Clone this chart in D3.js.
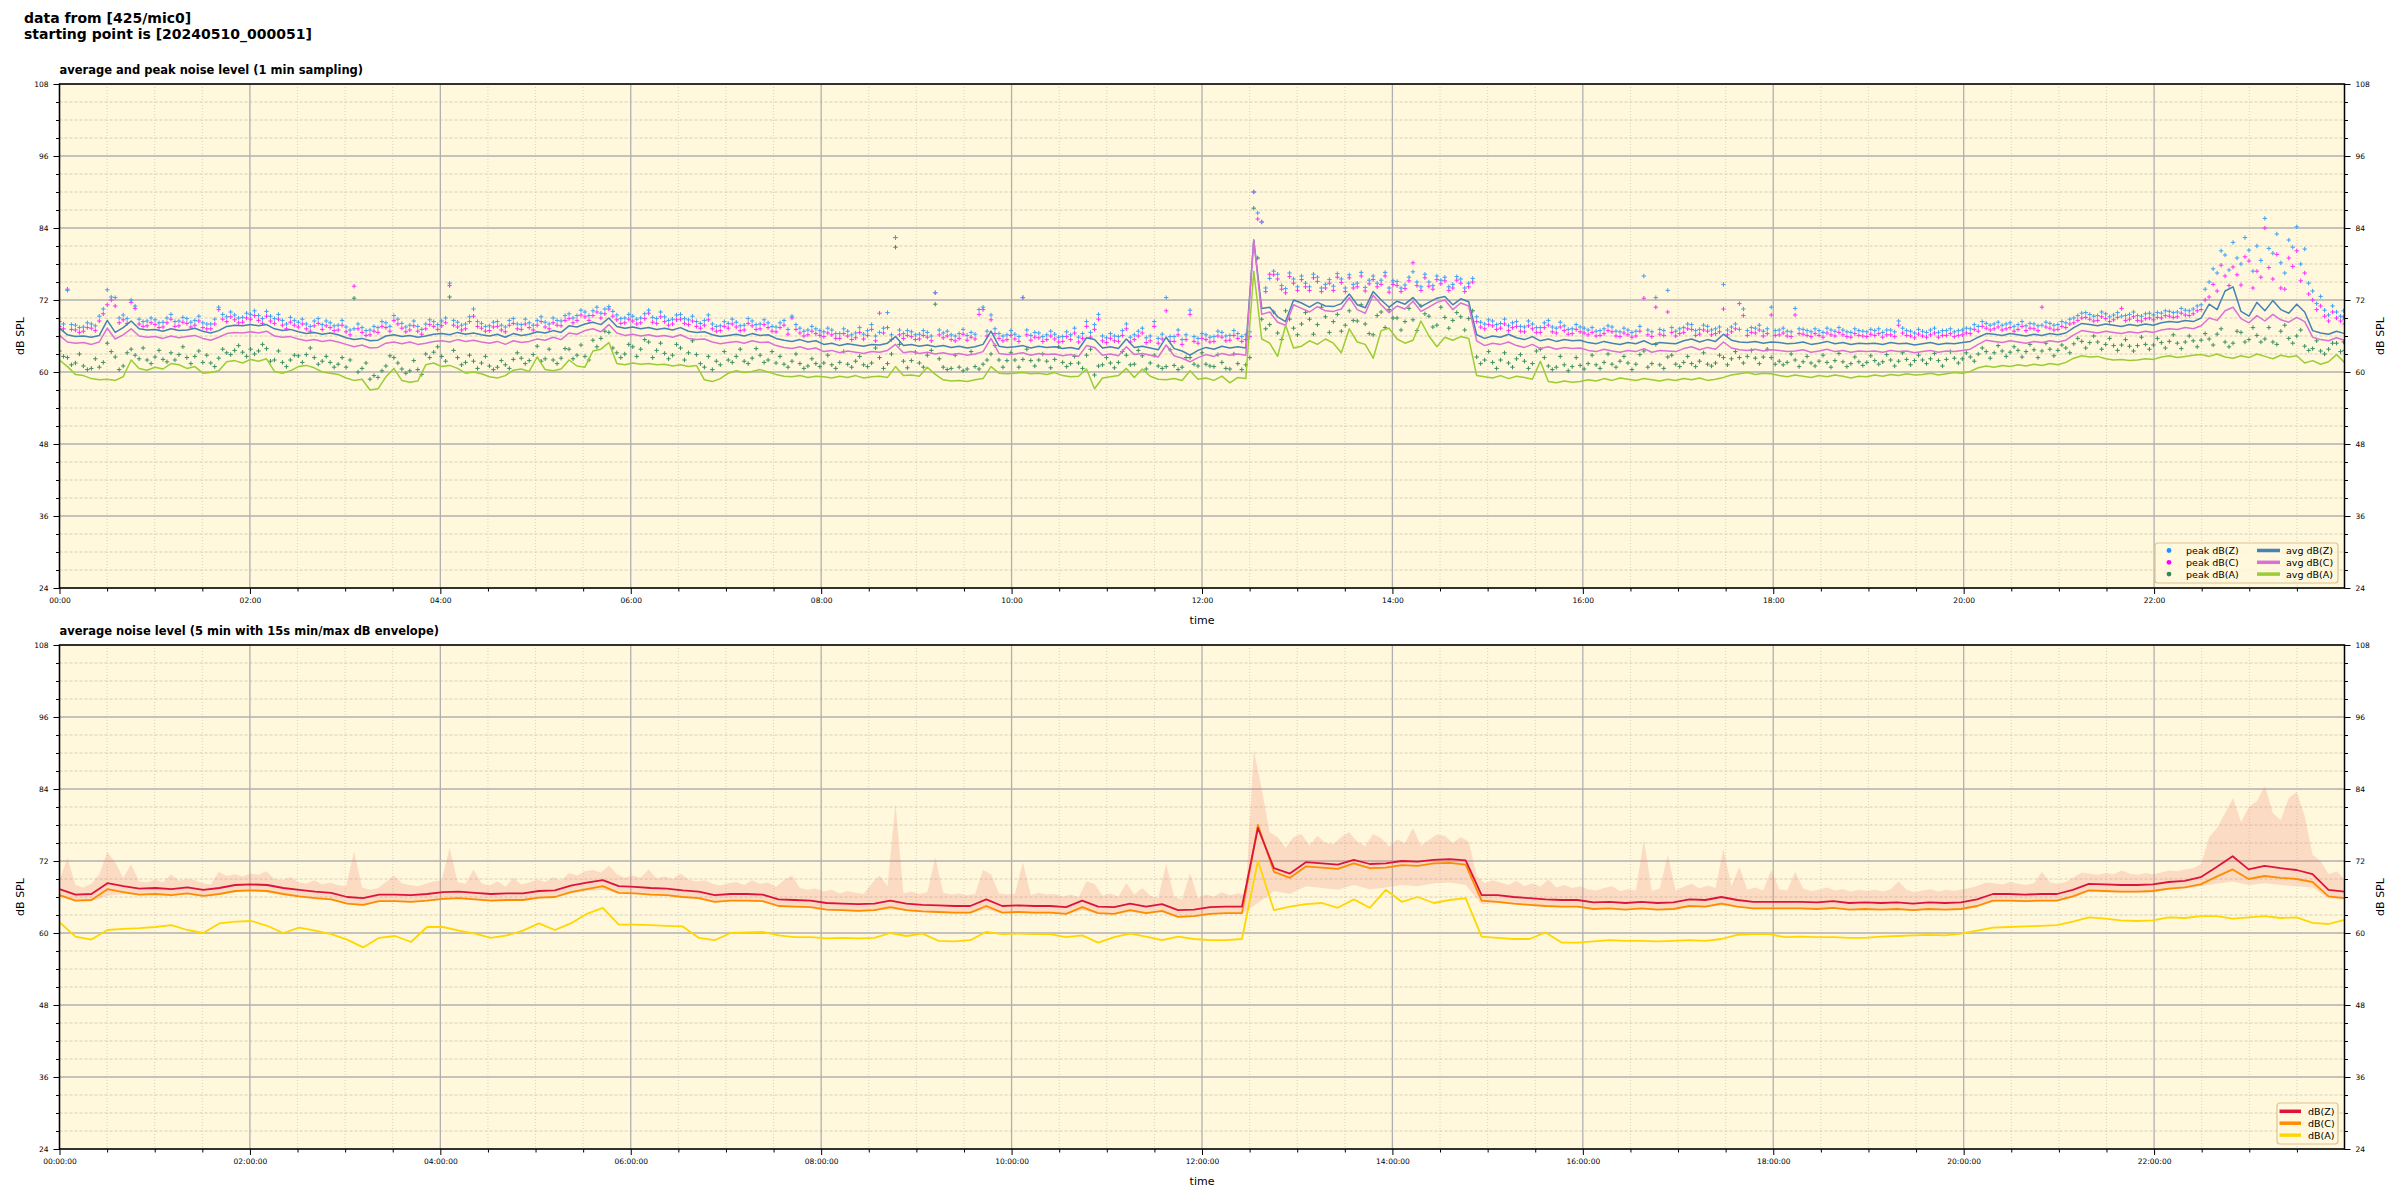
<!DOCTYPE html>
<html><head><meta charset="utf-8">
<script src="https://cdn.jsdelivr.net/npm/d3@7"></script>
<style>
body{margin:0;background:#fff}
svg{display:block}
text{font-family:"DejaVu Sans",sans-serif;fill:#000}
</style>
</head><body>
<svg id="chart" width="2400" height="1200"></svg>
<script>
// ---------- tick labels ----------
const yTicks = [24, 36, 48, 60, 72, 84, 96, 108];
const xTickLabelsTop = ["00:00","02:00","04:00","06:00","08:00","10:00","12:00","14:00","16:00","18:00","20:00","22:00"];
const xTickLabelsBottom = ["00:00:00","02:00:00","04:00:00","06:00:00","08:00:00","10:00:00","12:00:00","14:00:00","16:00:00","18:00:00","20:00:00","22:00:00"];

// ---------- top panel: 1 min sampling (read every 5 min) ----------
const avgZ = [
67.3,66.2,65.9,66.0,65.8,66.1,68.6,66.6,67.4,68.5,67.2,67.0,
67.1,66.8,67.2,66.9,67.0,67.3,66.8,66.5,66.9,67.6,67.8,67.7,
67.9,67.7,67.9,67.2,66.9,67.1,66.7,66.4,66.6,66.3,66.5,66.2,
65.7,65.4,65.6,65.2,65.3,66.0,66.2,65.9,66.1,65.8,66.0,66.3,
66.4,66.2,66.6,66.3,66.5,66.2,66.0,66.3,65.8,66.4,66.1,66.3,
66.7,66.5,66.9,66.6,67.7,67.5,68.0,68.3,67.9,69.0,67.6,67.3,
67.5,67.2,67.4,67.1,67.3,67.0,67.4,66.8,66.6,66.7,66.2,65.9,
66.1,66.3,66.0,66.4,66.1,66.2,65.6,65.3,65.1,65.4,65.0,65.2,
64.6,64.8,64.4,64.7,64.5,64.3,64.6,64.5,64.8,65.9,64.4,64.6,
64.3,64.5,64.2,64.4,64.1,64.3,64.0,64.2,64.6,66.8,64.3,64.1,
64.2,64.4,64.0,64.3,64.1,64.2,63.9,64.1,63.8,65.7,65.4,64.0,
64.2,63.9,65.5,64.1,64.3,64.0,63.7,65.8,63.9,63.5,62.8,63.6,
64.1,63.8,64.3,64.0,64.2,64.0,82.0,70.6,70.8,69.2,68.4,72.0,
71.5,70.8,71.6,71.0,70.9,71.4,73.0,71.2,70.7,73.4,72.0,70.8,
71.8,71.3,72.4,70.9,71.6,72.3,72.6,71.2,72.2,71.7,66.2,65.6,
66.0,65.8,66.3,65.7,65.4,65.9,65.2,65.5,65.1,65.4,65.2,65.3,
64.9,64.7,65.1,64.8,64.6,64.9,64.7,65.2,64.6,64.9,64.8,64.7,
65.2,65.5,65.0,65.4,65.1,66.3,65.3,65.0,64.9,65.1,64.8,65.0,
64.9,64.7,64.8,65.0,64.6,64.8,65.1,64.7,64.9,64.6,64.8,64.7,
64.8,64.6,64.9,64.7,64.8,64.5,64.7,64.9,64.6,64.8,64.7,64.9,
65.1,65.8,66.4,66.3,66.1,66.4,66.2,66.0,66.3,66.1,66.4,66.2,
66.5,67.4,68.1,67.9,67.7,68.0,67.8,67.6,67.9,67.7,68.0,67.8,
68.2,68.4,68.3,68.6,68.4,69.0,71.3,70.4,73.5,74.2,70.1,69.3,
71.6,70.2,71.9,70.4,69.8,71.3,70.0,66.9,66.5,66.3,66.8,66.4];

const avgC = [
66.1,65.0,64.8,64.9,64.6,65.0,67.3,65.5,66.2,67.2,66.0,65.8,
65.9,65.6,66.0,65.7,65.9,66.1,65.6,65.3,65.8,66.4,66.6,66.5,
66.7,66.5,66.8,66.0,65.8,65.9,65.5,65.2,65.4,65.1,65.3,65.0,
64.6,64.2,64.5,64.0,64.1,64.8,65.0,64.7,65.0,64.6,64.8,65.1,
65.2,65.0,65.4,65.1,65.3,65.0,64.8,65.1,64.6,65.2,64.9,65.1,
65.5,65.3,65.8,65.4,66.5,66.3,66.9,67.2,66.7,67.9,66.5,66.1,
66.3,66.0,66.2,65.9,66.1,65.8,66.2,65.6,65.4,65.5,65.0,64.7,
64.9,65.1,64.8,65.2,64.9,65.0,64.4,64.1,63.9,64.2,63.8,64.0,
63.4,63.6,63.2,63.5,63.3,63.1,63.4,63.3,63.6,64.6,63.2,63.4,
63.1,63.3,63.0,63.2,62.9,63.1,62.8,63.0,63.4,65.6,63.1,62.9,
63.0,63.2,62.8,63.1,62.9,63.0,62.7,62.9,62.6,64.4,64.1,62.8,
63.0,62.7,64.2,62.9,63.1,62.8,62.5,64.5,62.7,62.3,61.7,62.4,
62.9,62.6,63.1,62.8,63.0,62.8,82.0,69.6,70.0,68.3,67.8,71.2,
70.6,70.0,70.9,70.2,70.1,70.5,72.4,70.4,69.8,72.8,71.2,69.9,
71.0,70.5,71.8,70.1,70.8,71.6,72.0,70.4,71.5,71.0,65.2,64.4,
64.8,64.6,65.0,64.4,64.1,64.6,63.9,64.2,63.8,64.1,63.9,64.0,
63.6,63.4,63.8,63.5,63.3,63.6,63.4,63.9,63.3,63.6,63.5,63.4,
63.9,64.2,63.7,64.1,63.8,65.0,64.0,63.7,63.6,63.8,63.5,63.7,
63.6,63.4,63.5,63.7,63.3,63.5,63.8,63.4,63.6,63.3,63.5,63.4,
63.5,63.3,63.6,63.4,63.5,63.2,63.4,63.6,63.3,63.5,63.4,63.6,
63.8,64.6,65.3,65.1,64.9,65.2,65.0,64.8,65.1,64.9,65.2,65.0,
65.3,66.2,66.9,66.7,66.5,66.8,66.6,66.4,66.7,66.5,66.8,66.6,
67.0,67.2,67.1,67.4,67.2,67.7,69.0,68.6,70.2,70.8,68.9,68.2,
69.4,68.5,69.6,68.7,68.3,69.1,68.4,65.8,65.4,65.2,65.7,65.3];

const avgA = [
62.0,60.9,59.6,59.4,58.9,58.7,58.8,58.6,59.2,62.0,60.6,60.3,
60.8,60.5,61.4,61.2,60.6,60.9,59.8,59.9,60.2,61.7,61.9,61.5,
62.1,61.8,62.2,60.1,59.8,60.2,60.9,61.1,60.7,60.0,59.8,59.6,
59.0,58.6,58.8,57.0,57.2,59.2,60.6,58.6,58.3,58.5,61.2,61.5,
60.9,61.1,60.6,59.8,60.0,59.7,59.2,59.0,59.4,60.3,60.5,60.1,
62.5,60.4,60.2,60.5,62.0,61.0,60.8,63.5,63.8,64.9,61.4,61.2,
61.5,61.3,61.4,61.2,61.3,61.0,61.2,60.9,61.1,58.7,58.4,58.9,
59.8,60.2,59.9,60.1,60.4,60.0,59.6,59.3,59.2,59.4,59.1,59.3,
59.2,59.0,59.3,59.1,59.4,59.0,59.2,59.3,59.1,60.9,59.4,59.5,
59.3,60.8,59.6,58.7,58.5,58.6,58.4,58.7,58.9,60.9,59.8,59.7,
59.8,59.9,59.7,59.8,59.6,59.9,59.4,59.2,59.3,60.5,57.2,59.0,
59.2,59.4,60.6,59.1,60.5,59.3,58.8,58.7,58.9,58.6,60.2,58.8,
59.0,58.6,59.3,58.2,59.1,58.9,76.8,65.5,64.8,62.6,67.8,64.0,
64.3,65.2,64.6,65.5,64.8,63.2,67.2,65.0,64.6,62.3,66.9,67.3,
65.5,64.8,65.3,68.5,66.0,64.2,65.8,65.3,65.9,65.6,59.4,59.2,
59.0,59.4,58.9,59.3,59.1,58.8,61.8,58.4,58.2,58.5,58.3,58.4,
58.7,58.5,58.9,58.6,59.0,58.8,58.6,58.9,58.7,58.5,58.8,58.6,
58.9,58.7,59.0,58.6,58.8,59.1,59.5,59.7,59.9,59.6,59.8,59.7,
59.4,59.2,59.5,59.3,59.1,59.4,59.2,59.5,59.3,59.0,59.3,59.2,
59.5,59.3,59.6,59.4,59.7,59.5,59.6,59.8,59.5,59.7,59.9,59.8,
60.1,60.7,61.0,60.8,61.1,60.9,61.2,61.0,61.3,61.1,61.4,61.2,
61.6,62.3,62.7,62.5,62.6,62.2,62.0,62.1,61.9,62.0,62.2,62.1,
62.5,62.7,62.4,62.6,62.8,62.9,62.6,63.0,62.5,62.3,62.7,62.4,
63.0,62.6,62.2,62.8,62.5,62.7,61.5,61.9,61.3,61.7,62.9,61.6];

// peaks read at :00/:05 ... of every 5 min
const peakZ = [
68.4,73.6,67.8,67.5,68.0,69.3,73.7,72.4,69.5,72.0,68.8,68.5,
68.7,68.3,69.6,68.5,68.9,68.6,68.2,68.0,70.8,69.2,69.5,69.1,
69.6,69.4,70.1,68.9,68.6,69.1,68.3,68.0,68.5,67.9,68.2,67.8,
67.5,67.2,67.4,67.0,67.4,68.2,69.4,68.1,67.8,67.6,68.0,68.4,
68.5,74.8,68.3,68.0,70.5,68.1,67.7,68.4,67.5,68.9,67.9,68.2,
68.6,68.3,69.0,68.5,69.7,69.4,70.0,70.2,69.8,70.9,69.5,69.0,
69.3,69.0,70.3,68.9,69.2,68.8,69.6,68.7,68.4,68.6,68.0,67.7,
68.1,68.3,67.8,68.5,68.0,68.2,67.5,68.6,69.3,67.3,67.0,67.2,
66.7,67.0,66.4,66.8,66.5,66.3,67.9,66.6,69.9,82.4,66.4,66.7,
66.3,66.6,73.2,66.5,66.2,66.4,66.1,66.3,70.8,69.5,66.4,66.2,
66.3,72.4,66.1,66.5,66.2,66.3,65.9,66.2,65.8,68.4,67.9,66.0,
66.4,65.9,68.0,66.2,67.3,66.0,65.6,72.4,65.9,65.4,70.3,65.6,
66.2,65.9,66.6,66.1,66.4,66.2,90.0,85.0,75.6,76.3,73.9,75.5,
76.0,74.2,75.8,74.6,74.3,75.5,76.2,74.8,74.1,76.0,75.3,74.0,
75.1,74.5,76.7,74.2,75.0,76.0,75.8,74.6,75.5,74.8,69.2,68.0,
68.5,68.1,67.7,68.4,67.5,68.0,67.4,68.6,67.3,67.7,67.2,67.5,
67.0,66.8,67.2,67.5,66.7,67.0,66.8,76.0,66.7,67.1,73.6,66.8,
67.4,67.9,67.1,67.6,67.2,74.6,67.5,67.1,66.9,67.3,66.8,70.8,
67.0,66.8,70.6,67.1,66.7,66.9,67.3,66.8,67.0,66.6,66.9,66.7,
66.9,66.6,67.0,68.5,66.9,66.5,66.8,67.0,66.6,66.9,66.7,67.0,
67.2,67.6,68.1,68.0,67.8,68.2,67.9,67.7,68.0,67.8,68.1,67.9,
68.2,69.0,69.8,69.6,69.4,69.7,69.5,69.3,69.6,69.4,69.7,69.5,
69.8,70.1,70.0,70.3,70.5,71.2,75.0,76.5,79.5,81.6,78.0,80.3,
81.0,85.6,79.8,78.2,82.0,84.2,80.5,73.5,72.6,69.5,70.0,68.8];

const peakC = [
67.6,73.8,67.0,66.8,67.3,68.5,71.2,71.0,68.7,71.6,68.0,67.7,
67.9,67.5,68.8,67.7,68.1,67.8,67.4,67.2,70.4,68.4,68.7,68.3,
68.8,68.6,69.3,68.1,67.8,68.3,67.5,67.2,67.7,67.1,67.4,67.0,
66.7,74.3,66.6,66.2,66.6,67.4,68.6,67.3,67.0,66.8,67.2,67.6,
67.7,74.4,67.5,67.2,69.3,67.3,66.9,67.6,66.7,68.1,67.1,67.4,
67.8,67.5,68.2,67.7,68.9,68.6,69.2,69.4,69.0,70.5,68.7,68.2,
68.5,68.2,69.8,68.1,68.4,68.0,68.8,67.9,67.6,67.8,67.2,66.9,
67.3,67.5,67.0,67.7,67.2,67.4,66.7,67.8,69.0,66.5,66.2,66.4,
65.9,66.2,65.6,66.0,65.7,65.5,67.1,69.8,67.4,82.4,65.6,65.9,
65.5,65.8,73.2,65.7,65.4,65.6,65.3,65.5,70.4,68.7,65.6,65.4,
65.5,72.4,65.3,65.7,65.4,65.5,65.1,65.4,65.0,67.6,67.1,65.2,
65.6,65.1,67.2,65.4,66.5,65.2,64.8,70.2,65.1,64.6,69.6,64.8,
65.4,65.1,65.8,65.3,65.6,65.4,90.0,85.0,76.3,75.5,73.2,74.8,
75.4,73.6,75.1,74.0,73.6,74.9,75.7,74.2,73.5,75.4,74.6,73.3,
74.4,73.9,78.2,73.6,74.3,75.4,75.2,74.0,74.8,74.2,68.4,67.2,
67.7,67.3,66.9,67.6,66.7,67.2,66.6,67.8,66.5,66.9,66.4,66.7,
66.2,66.0,66.4,66.7,65.9,66.2,66.0,72.3,65.9,66.3,70.0,66.0,
66.6,67.1,66.3,66.8,66.4,70.5,66.7,71.4,66.1,66.5,66.0,69.5,
66.2,66.0,69.5,66.3,65.9,66.1,66.5,66.0,66.2,65.8,66.1,65.9,
66.1,65.8,66.2,67.8,66.1,65.7,66.0,66.2,65.8,66.1,65.9,66.2,
66.4,66.8,67.3,67.2,67.0,67.4,67.1,66.9,67.2,70.8,67.3,67.1,
67.4,68.2,69.0,68.8,68.6,68.9,68.7,70.6,68.8,68.6,68.9,68.7,
69.0,69.3,69.2,69.5,69.7,70.4,72.5,73.5,76.0,77.5,74.5,78.5,
76.8,84.0,75.5,74.0,79.0,80.2,76.5,72.0,71.0,68.5,69.0,68.0];

const peakA = [
63.5,62.4,61.5,61.0,60.6,60.8,64.8,62.5,61.0,63.8,62.2,62.0,
62.5,62.1,63.2,62.9,62.4,62.6,61.6,61.5,62.3,63.2,63.6,63.3,
63.8,63.5,63.9,62.0,61.6,62.0,62.7,62.9,62.4,61.8,61.6,61.3,
60.8,72.3,60.6,58.8,59.1,61.0,62.4,60.5,60.2,60.4,63.0,63.3,
62.6,72.5,62.4,61.6,61.8,61.5,61.0,60.8,61.2,62.1,62.3,61.9,
64.3,62.2,62.0,62.3,63.8,62.8,62.6,65.3,65.6,66.6,63.2,63.0,
64.2,63.8,65.0,63.6,63.1,62.8,64.0,63.2,62.9,60.8,60.4,61.2,
62.0,62.6,61.8,62.3,62.8,62.0,61.5,61.3,61.8,61.4,61.0,61.4,
61.5,61.2,61.6,61.3,61.8,61.2,61.5,62.4,61.4,80.8,61.8,61.9,
61.5,62.8,71.3,60.8,60.6,60.8,60.5,60.9,61.3,63.0,62.0,61.9,
62.0,62.1,61.9,62.0,61.8,62.1,61.6,61.4,61.5,62.8,59.5,61.2,
61.5,61.6,62.8,61.3,62.7,61.5,61.0,60.9,61.1,60.8,62.4,61.0,
61.3,60.9,61.6,60.5,61.4,61.2,87.3,68.8,67.9,66.5,70.2,67.3,
68.0,68.8,67.9,69.2,68.4,66.8,70.2,68.5,68.0,66.2,70.0,70.4,
69.0,68.4,68.7,71.0,69.3,67.8,69.1,68.6,69.2,68.9,62.5,62.0,
61.6,62.0,61.5,62.2,61.8,61.4,63.8,61.0,60.8,61.2,60.9,61.1,
61.4,61.2,61.6,61.3,61.8,61.5,61.3,63.5,61.4,61.2,62.5,61.3,
61.6,61.4,61.8,61.3,61.5,62.4,62.2,62.4,62.6,62.3,62.5,62.4,
61.8,61.6,62.0,61.7,61.5,61.8,61.6,61.9,61.7,61.4,61.7,61.6,
61.9,61.7,62.0,61.8,62.1,61.9,62.0,62.2,61.9,62.1,62.3,62.2,
62.5,63.0,63.4,63.2,63.5,63.3,63.6,63.4,63.7,63.5,63.8,63.6,
64.0,64.7,65.1,64.9,65.0,64.6,64.4,64.5,64.3,64.4,64.6,64.5,
64.9,65.1,64.8,65.0,65.2,65.3,65.5,66.3,65.0,64.8,66.6,65.4,
66.1,65.5,65.0,66.8,65.6,66.0,64.3,63.9,63.5,63.8,64.8,63.6];

// peaks read at :02:30/:07:30 ... of every 5 min
const peakZ2 = [
68.0,67.9,67.4,68.2,67.7,70.5,72.5,69.0,68.9,71.0,68.4,69.0,
68.2,69.0,68.4,69.1,68.3,69.3,68.0,68.8,69.6,70.0,69.0,69.8,
70.2,68.9,69.3,69.6,68.0,68.6,68.8,67.6,68.9,68.5,67.7,68.6,
67.0,68.0,66.9,67.6,68.4,67.6,68.8,67.5,68.5,67.1,68.7,67.9,
69.0,68.6,67.8,69.2,68.4,67.6,68.3,67.8,68.6,68.0,68.8,67.8,
69.2,68.0,68.6,69.4,69.0,70.3,69.4,70.8,70.5,70.1,68.9,69.6,
68.8,69.7,69.1,70.0,68.6,69.5,68.9,69.3,68.1,69.5,67.6,68.4,
68.8,67.7,68.9,67.9,68.7,67.6,68.2,67.1,67.9,66.8,67.6,66.9,
67.3,66.4,67.2,66.2,67.4,66.9,66.0,67.3,66.2,67.0,66.9,66.2,
66.9,66.0,67.0,66.8,66.0,67.1,66.6,70.4,66.8,67.2,66.0,66.9,
65.9,67.0,66.6,65.9,66.8,65.8,66.7,67.3,66.4,66.6,69.6,65.7,
66.0,66.9,65.8,66.8,65.7,68.4,66.3,65.9,67.0,66.2,65.9,66.4,
65.8,66.8,66.0,66.9,65.9,66.7,86.5,74.0,76.8,74.4,76.5,74.2,
74.8,76.3,74.0,75.4,76.4,74.0,74.6,76.6,75.3,74.8,76.6,75.2,
74.0,75.8,75.0,76.3,74.4,75.3,74.2,75.9,74.0,75.6,68.3,68.7,
67.9,68.8,68.2,67.6,68.5,67.4,68.2,67.5,68.3,67.1,67.9,67.3,
67.4,66.9,67.7,66.8,67.3,66.6,67.6,67.0,72.4,66.9,67.4,67.2,
68.0,66.9,67.8,67.0,67.5,67.0,68.0,70.5,67.4,67.8,67.2,66.9,
67.3,66.7,67.2,66.9,67.2,66.6,67.0,67.4,66.7,67.2,66.8,67.1,
67.2,67.0,66.7,67.3,66.8,67.1,66.6,67.3,66.9,67.2,66.9,67.3,
67.9,68.4,67.8,68.3,68.0,67.6,68.4,68.1,67.7,68.3,67.8,68.4,
68.8,69.4,69.9,69.3,70.0,69.2,69.9,69.4,70.0,69.3,69.8,69.9,
70.2,69.9,70.6,70.2,71.0,73.8,77.2,80.2,77.0,79.0,82.4,76.8,
78.6,80.6,83.0,76.5,80.8,78.0,74.8,71.4,70.3,71.0,69.3,70.2];

const peakC2 = [
67.2,67.1,66.6,67.4,66.9,69.7,72.0,68.2,68.1,70.6,67.6,68.2,
67.4,68.2,67.6,68.3,67.5,68.5,67.2,68.0,68.8,69.2,68.2,69.0,
69.4,68.1,68.5,68.8,67.2,67.8,68.0,66.8,68.1,67.7,66.9,67.8,
66.2,67.2,66.1,66.8,67.6,66.8,68.0,66.7,67.7,66.3,67.9,67.1,
68.2,67.8,67.0,68.4,67.6,66.8,67.5,67.0,67.8,67.2,68.0,67.0,
68.4,67.2,67.8,68.6,68.2,69.5,68.6,70.0,69.7,69.3,68.1,68.8,
68.0,68.9,68.3,69.2,67.8,68.7,68.1,68.5,67.3,68.7,66.8,67.6,
68.0,66.9,68.1,67.1,67.9,66.8,67.4,66.3,67.1,66.0,66.8,66.1,
66.5,65.6,66.4,65.4,66.6,66.1,65.2,66.5,65.4,66.2,66.1,65.4,
66.1,65.2,66.2,66.0,65.2,66.3,65.8,69.6,66.0,66.4,65.2,66.1,
65.1,66.2,65.8,65.1,66.0,65.0,65.9,66.5,65.6,65.8,68.8,64.9,
65.2,66.1,65.0,66.0,64.9,67.6,65.5,65.1,66.2,65.4,65.1,65.6,
65.0,66.0,65.2,66.1,65.1,65.9,85.5,73.4,76.2,73.8,75.9,73.6,
74.2,75.7,73.4,74.8,75.8,73.4,74.0,76.0,74.7,74.2,76.0,74.6,
73.4,75.2,74.4,75.7,73.8,74.7,73.6,75.3,73.4,75.0,67.5,67.9,
67.1,68.0,67.4,66.8,67.7,66.6,67.4,66.7,67.5,66.3,67.1,66.5,
66.6,66.1,66.9,66.0,66.5,65.8,66.8,66.2,70.8,66.1,66.6,66.4,
67.2,66.1,67.0,66.2,66.7,66.2,67.2,69.4,66.6,67.0,66.4,66.1,
66.5,65.9,66.4,66.1,66.4,65.8,66.2,66.6,65.9,66.4,66.0,66.3,
66.4,66.2,65.9,66.5,66.0,66.3,65.8,66.5,66.1,66.4,66.1,66.5,
67.1,67.6,67.0,67.5,67.2,66.8,67.6,67.3,66.9,67.5,67.0,67.6,
68.0,68.6,69.1,68.5,69.2,68.4,69.1,68.6,69.2,68.5,69.0,69.1,
69.4,69.1,69.8,69.4,70.2,72.0,74.6,77.8,74.4,76.2,79.2,74.0,
75.8,77.4,79.6,73.8,77.6,75.2,73.0,70.4,69.3,70.0,68.5,69.2];

const peakA2 = [
62.6,61.2,63.0,60.4,62.2,61.6,63.4,60.4,63.2,62.8,64.0,61.4,
63.6,61.7,62.0,64.2,61.4,63.5,62.8,60.9,63.8,62.9,64.4,62.6,
63.0,64.6,61.8,63.5,60.9,62.8,61.6,64.0,61.3,62.6,60.8,62.4,
62.0,60.0,61.5,59.4,60.2,62.7,61.5,59.8,61.9,59.6,62.4,64.2,
61.8,63.6,61.2,62.8,60.6,62.6,60.4,61.9,60.6,63.2,61.4,62.9,
61.8,63.8,61.4,63.9,62.2,64.5,62.0,64.2,66.8,64.0,62.4,64.6,
62.6,65.4,62.4,64.8,62.2,64.6,62.0,65.2,61.4,62.6,61.8,63.4,
61.6,63.8,61.4,63.9,61.6,63.4,62.6,60.8,63.0,60.6,62.2,60.9,
62.8,60.6,63.4,60.8,62.6,60.9,64.0,60.6,63.0,64.6,60.7,63.3,
60.8,63.6,62.2,60.4,62.8,60.2,63.4,60.5,62.0,64.4,60.8,63.2,
60.8,63.8,61.0,63.0,60.7,64.2,60.9,62.6,60.6,63.8,61.0,62.4,
60.7,63.4,61.2,63.6,60.5,62.8,60.6,63.7,60.4,62.4,61.3,63.2,
61.0,62.9,60.6,63.0,60.4,62.4,79.0,67.2,70.0,65.4,68.8,66.2,
69.9,66.3,70.8,66.6,69.6,67.8,68.6,71.2,66.4,69.4,67.4,69.0,
67.0,70.6,66.9,69.7,67.5,70.8,67.3,69.9,67.0,70.2,61.4,63.4,
60.6,63.2,60.8,62.9,60.6,63.5,62.4,60.4,62.6,60.2,62.4,60.5,
62.8,60.6,63.0,60.8,62.6,60.4,62.9,60.8,64.6,60.6,62.8,60.9,
62.6,60.9,63.2,61.0,62.8,61.2,63.4,61.5,63.6,61.4,63.8,61.3,
61.2,63.0,60.9,62.6,61.0,62.8,60.8,63.1,60.9,62.5,61.1,62.7,
61.3,62.9,61.0,63.2,61.2,62.8,61.4,63.1,61.0,63.4,61.5,63.2,
61.8,64.0,62.3,64.4,62.6,64.2,62.5,64.6,62.4,64.8,62.7,64.5,
63.2,65.6,64.0,66.0,63.8,65.6,63.6,65.4,63.5,65.8,63.8,65.6,
64.0,66.2,63.9,66.0,64.2,66.4,64.5,67.2,64.2,66.8,65.0,67.4,
65.0,67.4,64.6,67.8,64.8,67.0,63.6,65.2,63.0,64.8,63.4,65.0];

// ---------- bottom panel: 5 min averages (read every 10 min) ----------
const lvlZ = [
67.3,66.4,66.5,68.3,67.8,67.4, 67.5,67.3,67.6,67.2,67.5,68.0,
68.1,68.0,67.5,67.2,66.9,66.7, 66.0,65.8,66.4,66.4,66.3,66.5,
66.8,66.9,66.7,66.5,66.6,66.6, 67.0,67.1,67.9,68.4,68.8,67.8,
67.7,67.5,67.4,67.1,66.9,66.3, 66.5,66.5,66.4,65.6,65.5,65.4,
65.0,64.9,64.8,64.9,65.4,64.9, 64.7,64.6,64.5,64.5,65.6,64.5,
64.6,64.5,64.5,64.3,65.4,64.4, 64.3,64.9,64.4,64.8,63.8,63.9,
64.3,64.4,64.4,77.5,70.8,69.9, 71.8,71.6,71.4,72.2,71.5,71.6,
72.0,71.9,72.2,72.3,72.1,66.3, 66.3,66.0,65.8,65.6,65.5,65.5,
65.1,65.2,65.0,65.2,65.0,65.1, 65.6,65.5,66.0,65.5,65.2,65.2,
65.2,65.2,65.1,65.3,65.0,65.1, 65.0,65.1,64.9,65.1,65.0,65.1,
65.6,66.5,66.5,66.4,66.5,66.5, 67.2,68.2,68.1,68.0,68.0,68.1,
68.5,68.7,69.3,71.0,72.8,70.6, 71.2,70.8,70.5,69.8,67.2,66.9];

const lvlC = [
66.3,65.4,65.5,67.3,66.8,66.4, 66.5,66.3,66.6,66.2,66.5,67.0,
67.1,67.0,66.5,66.1,65.8,65.6, 64.9,64.7,65.3,65.3,65.2,65.4,
65.7,65.8,65.6,65.4,65.5,65.5, 65.9,66.0,66.8,67.3,67.8,66.7,
66.6,66.4,66.3,66.0,65.8,65.2, 65.4,65.4,65.3,64.5,64.4,64.3,
63.9,63.8,63.7,63.8,64.3,63.8, 63.6,63.5,63.4,63.4,64.5,63.4,
63.5,63.4,63.4,63.2,64.3,63.3, 63.2,63.8,63.3,63.7,62.7,62.8,
63.2,63.3,63.3,78.0,70.2,69.2, 71.1,70.9,70.7,71.6,70.8,70.9,
71.3,71.2,71.6,71.7,71.4,65.4, 65.2,64.9,64.7,64.5,64.4,64.4,
64.0,64.1,63.9,64.1,63.9,64.0, 64.5,64.4,64.9,64.4,64.1,64.1,
64.1,64.1,64.0,64.2,63.9,64.0, 63.9,64.0,63.8,64.0,63.9,64.0,
64.5,65.4,65.4,65.3,65.4,65.4, 66.1,67.1,67.0,66.9,66.9,67.0,
67.4,67.6,68.1,69.4,70.6,69.0, 69.5,69.2,69.0,68.5,66.1,65.8];

const lvlA = [
61.8,59.4,58.9,60.5,60.7,60.8, 61.0,61.3,60.5,60.0,61.6,61.9,
62.0,61.2,60.0,60.9,60.4,59.8, 58.9,57.6,59.2,59.5,58.5,61.0,
61.0,60.4,59.9,59.2,59.6,60.4, 61.6,60.5,61.6,63.2,64.2,61.4,
61.4,61.3,61.2,61.1,59.2,58.8, 60.0,60.1,60.2,59.6,59.3,59.3,
59.1,59.2,59.1,59.2,60.0,59.5, 59.9,58.7,58.6,58.8,60.2,59.8,
59.9,59.8,59.8,59.3,59.6,58.4, 59.3,59.9,59.4,58.8,59.4,59.0,
58.8,58.8,59.0,72.0,63.8,64.4, 64.8,65.0,64.2,65.6,64.2,67.2,
65.2,66.0,65.0,65.5,65.8,59.4, 59.2,59.0,59.0,60.1,58.4,58.4,
58.6,58.8,58.7,58.7,58.6,58.7, 58.8,58.7,59.0,59.7,59.8,59.8,
59.3,59.4,59.3,59.3,59.2,59.2, 59.4,59.5,59.6,59.7,59.6,59.9,
60.4,60.9,61.0,61.1,61.2,61.3, 61.9,62.6,62.4,62.1,62.0,62.1,
62.6,62.5,62.8,62.8,62.4,62.6, 62.8,62.5,62.6,61.7,61.5,62.2];

// 15 s max envelope (read every 5 min) and min envelope (read every 10 min)
const envMax = [
68.8,72.5,68.0,67.6,68.2,69.8,73.5,71.8,69.2,71.4,68.6,68.4,
68.9,68.4,69.8,68.7,69.0,68.8,68.3,68.1,70.2,69.5,69.8,69.4,
69.9,69.7,70.3,69.0,68.8,69.3,68.5,68.2,68.8,68.1,68.4,68.0,
67.8,73.6,67.6,67.2,67.5,68.5,69.6,68.3,68.0,67.8,68.2,68.6,
68.8,74.2,68.5,68.2,70.6,68.3,67.9,68.6,67.7,69.2,68.1,68.4,
68.9,68.5,69.3,68.7,70.0,69.6,70.3,70.5,70.1,71.2,69.8,69.2,
69.6,69.2,70.6,69.1,69.4,69.0,69.9,68.9,68.6,68.8,68.2,67.9,
68.3,68.5,68.0,68.8,68.2,68.4,67.7,68.8,69.6,67.5,67.2,67.4,
66.9,67.2,66.6,67.0,66.7,66.5,68.2,69.6,67.8,81.5,66.6,66.9,
66.5,66.8,72.6,66.7,66.4,66.6,66.3,66.5,70.5,69.8,66.6,66.4,
66.5,71.8,66.3,66.7,66.4,66.5,66.1,66.4,66.0,68.6,68.2,66.2,
66.6,66.1,68.3,66.4,67.5,66.2,65.8,71.6,66.1,65.6,70.0,65.8,
66.4,66.1,66.8,66.3,66.6,66.4,90.5,84.0,76.8,76.0,74.2,76.0,
76.5,74.6,76.2,75.0,74.8,76.0,76.8,75.2,74.5,76.5,75.8,74.4,
75.6,75.0,77.5,74.6,75.5,76.4,76.2,75.0,76.0,75.2,69.5,68.3,
68.8,68.4,68.0,68.7,67.8,68.3,67.7,68.9,67.6,68.0,67.5,67.8,
67.3,67.1,67.5,67.8,67.0,67.3,67.1,75.5,67.0,67.4,73.0,67.1,
67.7,68.2,67.4,67.9,67.5,74.0,67.8,71.0,67.2,67.6,67.1,70.5,
67.3,67.1,70.2,67.4,67.0,67.2,67.6,67.1,67.3,66.9,67.2,67.0,
67.2,66.9,67.3,68.6,67.2,66.8,67.1,67.3,66.9,67.2,67.0,67.3,
67.5,67.9,68.4,68.3,68.1,68.5,68.2,68.0,68.3,70.2,68.4,68.2,
68.5,69.3,70.1,69.9,69.7,70.0,69.8,70.4,69.9,69.7,70.0,69.8,
70.1,70.4,70.3,70.6,70.8,71.5,76.0,77.5,80.0,82.5,78.5,81.0,
82.0,84.5,80.0,78.8,82.5,83.5,79.5,73.0,72.0,69.8,70.3,69.0];

const envMin = [
66.0,65.4,65.3,66.2,66.5,66.3, 66.4,66.2,66.4,66.0,66.4,66.8,
67.0,66.8,66.3,66.0,65.7,65.5, 64.8,64.5,65.2,65.2,65.1,65.3,
65.6,65.7,65.5,65.3,65.4,65.4, 65.8,65.9,66.6,67.0,67.2,66.6,
66.5,66.3,66.2,65.9,65.7,65.1, 65.3,65.3,65.2,64.4,64.3,64.2,
63.8,63.7,63.6,63.7,63.9,63.7, 63.5,63.4,63.3,63.3,63.9,63.3,
63.4,63.3,63.3,63.1,63.8,63.2, 63.1,63.5,63.2,63.4,62.6,62.7,
63.1,63.2,63.2,65.0,67.0,66.5, 67.8,67.5,67.2,68.0,67.3,67.6,
68.0,67.8,68.3,68.4,68.0,64.8, 65.0,64.8,64.6,64.4,64.3,64.3,
63.9,64.0,63.8,64.0,63.8,63.9, 64.4,64.3,64.6,64.3,64.0,64.0,
64.0,64.0,63.9,64.1,63.8,63.9, 63.8,63.9,63.7,63.9,63.8,63.9,
64.3,65.2,65.3,65.2,65.3,65.3, 65.9,66.9,66.8,66.7,66.7,66.8,
67.2,67.4,67.8,68.2,68.6,68.0, 68.3,68.0,67.8,67.6,65.8,65.6];

// ---------- drawing ----------
const svg = d3.select("#chart");
const L = 59.5, R = 2344.5;
const x = d3.scaleLinear().domain([0, 24]).range([L, R]);
const hourOf = (i, n) => i * 24 / (n - 1);
const hourOfHalf = (i, n) => Math.min(23.99, (i + 0.5) * 24 / (n - 1));

svg.append("text").attr("x", 24).attr("y", 23).attr("font-size", 14).attr("font-weight", "bold").text("data from [425/mic0]");
svg.append("text").attr("x", 24).attr("y", 39).attr("font-size", 14).attr("font-weight", "bold").text("starting point is [20240510_000051]");

function panel(top, bottom, title, xLabels, id) {
  const y = d3.scaleLinear().domain([24, 108]).range([bottom, top]);
  const g = svg.append("g");
  g.append("rect").attr("x", L).attr("y", top).attr("width", R - L).attr("height", bottom - top).attr("fill", "#fff8dc");
  g.append("clipPath").attr("id", id).append("rect").attr("x", L).attr("y", top).attr("width", R - L).attr("height", bottom - top);

  const majorX = d3.range(0, 24, 2);
  const minorX = d3.range(0, 24.01, 0.5).filter(h => h % 2 !== 0);
  const minorY = d3.range(24, 108.01, 3).filter(v => (v - 24) % 12 !== 0);
  g.selectAll(null).data(minorY).join("line")
    .attr("x1", L).attr("x2", R).attr("y1", d => y(d)).attr("y2", d => y(d))
    .attr("stroke", "#c9c3b0").attr("stroke-width", 0.8).attr("stroke-dasharray", "3,2");
  g.selectAll(null).data(minorX).join("line")
    .attr("y1", top).attr("y2", bottom).attr("x1", d => x(d)).attr("x2", d => x(d))
    .attr("stroke", "#cfc9b6").attr("stroke-width", 0.8).attr("stroke-dasharray", "1,2");
  g.selectAll(null).data(yTicks).join("line")
    .attr("x1", L).attr("x2", R).attr("y1", d => y(d)).attr("y2", d => y(d))
    .attr("stroke", "#b0b0b0").attr("stroke-width", 1.3);
  g.selectAll(null).data(majorX).join("line")
    .attr("y1", top).attr("y2", bottom).attr("x1", d => x(d)).attr("x2", d => x(d))
    .attr("stroke", "#b0b0b0").attr("stroke-width", 1.3);

  svg.append("text").attr("x", L).attr("y", top - 10).attr("font-size", 11.5).attr("font-weight", "bold").text(title);

  g.append("g").attr("transform", `translate(${L},0)`)
    .call(d3.axisLeft(y).tickValues(yTicks).tickFormat((d, i) => yTicks[i]).tickSize(6).tickPadding(5));
  g.append("g").attr("transform", `translate(${L},0)`)
    .call(d3.axisLeft(y).tickValues(minorY).tickFormat("").tickSize(3.5));
  g.append("g").attr("transform", `translate(${R},0)`)
    .call(d3.axisRight(y).tickValues(yTicks).tickFormat((d, i) => yTicks[i]).tickSize(6).tickPadding(5));
  g.append("g").attr("transform", `translate(${R},0)`)
    .call(d3.axisRight(y).tickValues(minorY).tickFormat("").tickSize(3.5));
  g.append("g").attr("transform", `translate(0,${bottom})`)
    .call(d3.axisBottom(x).tickValues(majorX).tickFormat((d, i) => xLabels[i]).tickSize(6).tickPadding(4));
  g.append("g").attr("transform", `translate(0,${bottom})`)
    .call(d3.axisBottom(x).tickValues(minorX).tickFormat("").tickSize(3.5));
  g.selectAll(".domain").remove();
  g.selectAll(".tick line").attr("stroke", "#000").attr("stroke-width", 1);
  g.selectAll(".tick text").attr("font-size", 7.5).attr("font-family", "DejaVu Sans").attr("fill", "#000");

  svg.append("text").attr("x", (L + R) / 2).attr("y", bottom + 36).attr("text-anchor", "middle").attr("font-size", 11).text("time");
  svg.append("text").attr("transform", `translate(24,${(top + bottom) / 2}) rotate(-90)`).attr("text-anchor", "middle").attr("font-size", 11).text("dB SPL");
  svg.append("text").attr("transform", `translate(2384,${(top + bottom) / 2}) rotate(-90)`).attr("text-anchor", "middle").attr("font-size", 11).text("dB SPL");

  const data = g.append("g").attr("clip-path", `url(#${id})`);
  return {g, y, data, top, bottom};
}

// ---- top panel ----
const P1 = panel(84, 588, "average and peak noise level (1 min sampling)", xTickLabelsTop, "clip1");
const plus = "M-2.2,0H2.2M0,-2.2V2.2";
function peaks(P, arr, color, tf) {
  P.data.append("g").selectAll("path").data(arr).join("path")
    .attr("transform", (d, i) => `translate(${x(tf(i, arr.length))},${P.y(d)})`)
    .attr("d", plus).attr("stroke", color).attr("stroke-width", 1).attr("fill", "none");
}
peaks(P1, peakA, "#3c8f62", hourOf);
peaks(P1, peakA2, "#3c8f62", hourOfHalf);
peaks(P1, peakC, "#ff2cff", hourOf);
peaks(P1, peakC2, "#ff2cff", hourOfHalf);
peaks(P1, peakZ, "#3fa0f5", hourOf);
peaks(P1, peakZ2, "#3fa0f5", hourOfHalf);
function line(P, arr, color, w) {
  const gen = d3.line().x((d, i) => x(hourOf(i, arr.length))).y(d => P.y(d));
  P.data.append("path").attr("d", gen(arr)).attr("fill", "none").attr("stroke", color).attr("stroke-width", w).attr("stroke-linejoin", "round");
}
line(P1, avgZ, "#4682b4", 1.5);
line(P1, avgC, "#da70d6", 1.5);
line(P1, avgA, "#9acd32", 1.5);

// ---- bottom panel ----
const P2 = panel(645, 1149, "average noise level (5 min with 15s min/max dB envelope)", xTickLabelsBottom, "clip2");
const envPts = envMax.map((v, i) => [hourOf(i, envMax.length), v])
  .concat(envMin.map((v, i) => [hourOf(i, envMin.length), v]).reverse());
P2.data.append("path")
  .attr("d", d3.line().x(d => x(d[0])).y(d => P2.y(d[1]))(envPts) + "Z")
  .attr("fill", "#f08070").attr("fill-opacity", 0.24).attr("stroke", "none");
line(P2, lvlA, "#ffd700", 1.8);
line(P2, lvlC, "#ff8c00", 1.8);
line(P2, lvlZ, "#dc143c", 1.8);

[P1, P2].forEach(P => {
  svg.append("rect").attr("x", L).attr("y", P.top).attr("width", R - L).attr("height", P.bottom - P.top)
    .attr("fill", "none").attr("stroke", "#000").attr("stroke-width", 1.5);
});

// ---- legends ----
function legendBox(x0, y0, w, h) {
  svg.append("rect").attr("x", x0).attr("y", y0).attr("width", w).attr("height", h).attr("rx", 3)
    .attr("fill", "#fff8dc").attr("fill-opacity", 0.85).attr("stroke", "#dcc394").attr("stroke-width", 1.2);
}
const legendTopPeaks = [["peak dB(Z)", "#1e90ff"], ["peak dB(C)", "#ff00ff"], ["peak dB(A)", "#2e8b57"]];
const legendTopLines = [["avg dB(Z)", "#4682b4"], ["avg dB(C)", "#da70d6"], ["avg dB(A)", "#9acd32"]];
legendBox(2155, 543, 183, 40);
legendTopPeaks.forEach((d, i) => {
  const yy = 550.5 + i * 11.8;
  svg.append("circle").attr("cx", 2169).attr("cy", yy).attr("r", 2.4).attr("fill", d[1]);
  svg.append("text").attr("x", 2186).attr("y", yy + 3.4).attr("font-size", 9.5).text(d[0]);
});
legendTopLines.forEach((d, i) => {
  const yy = 550.5 + i * 11.8;
  svg.append("line").attr("x1", 2257).attr("x2", 2280).attr("y1", yy).attr("y2", yy).attr("stroke", d[1]).attr("stroke-width", 3.5);
  svg.append("text").attr("x", 2286).attr("y", yy + 3.4).attr("font-size", 9.5).text(d[0]);
});
const legendBottom = [["dB(Z)", "#dc143c"], ["dB(C)", "#ff8c00"], ["dB(A)", "#ffd700"]];
legendBox(2277, 1103, 61, 41);
legendBottom.forEach((d, i) => {
  const yy = 1111.3 + i * 11.9;
  svg.append("line").attr("x1", 2279.5).attr("x2", 2301).attr("y1", yy).attr("y2", yy).attr("stroke", d[1]).attr("stroke-width", 3.5);
  svg.append("text").attr("x", 2308).attr("y", yy + 3.4).attr("font-size", 9.5).text(d[0]);
});
</script>
</body></html>
